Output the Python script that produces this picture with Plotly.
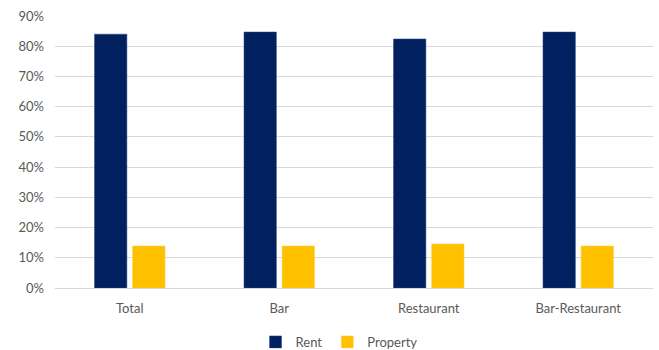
import plotly.graph_objects as go

categories = ["Total", "Bar", "Restaurant", "Bar-Restaurant"]
rent = [0.840, 0.847, 0.824, 0.847]
prop = [0.139, 0.139, 0.146, 0.139]
tick_vals = [0, 0.1, 0.2, 0.3, 0.4, 0.5, 0.6, 0.7, 0.8, 0.9]

fig = go.Figure()
fig.add_bar(x=categories, y=rent, name="Rent", marker=dict(color="#002060", line=dict(color="#2f4a80", width=0.5)))
fig.add_bar(x=categories, y=prop, name="Property", marker=dict(color="#FFC000", line=dict(color="#ffd24d", width=0.5)))

fig.update_layout(
    width=659, height=350,
    margin=dict(l=55, r=6, t=16, b=62, autoexpand=False),
    barmode="group", bargap=0.49, bargroupgap=0.15,
    plot_bgcolor="white", paper_bgcolor="white",
    font=dict(family="Lato, Open Sans, sans-serif", size=13, color="#595959"),
    legend=dict(orientation="h", x=0.475, xanchor="center",
                y=0.023, yanchor="middle", yref="container",
                font=dict(size=13), itemwidth=30, traceorder="normal"),
    showlegend=True,
)
fig.update_yaxes(range=[0, 0.9], tickvals=tick_vals, tickformat=".0%",
                 showgrid=True, gridcolor="#d9d9d9", gridwidth=1, zeroline=False,
                 ticks="", showline=False, ticklabelstandoff=10)
fig.update_xaxes(showline=True, linecolor="#d9d9d9", linewidth=1, ticks="", ticklabelstandoff=8)

fig.write_html("out.html")
